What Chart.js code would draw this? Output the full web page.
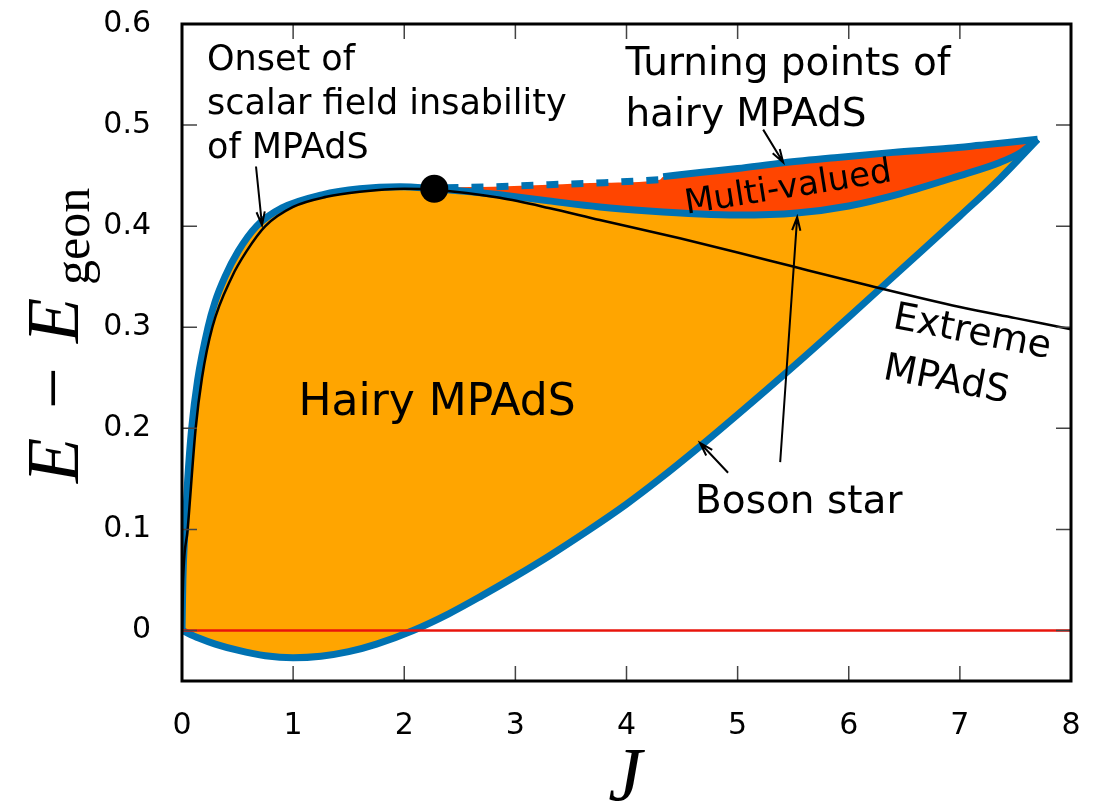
<!DOCTYPE html>
<html>
<head>
<meta charset="utf-8">
<script src="https://cdn.jsdelivr.net/npm/chart.js@4.4.1/dist/chart.umd.min.js"></script>
<style>
  html, body { margin: 0; padding: 0; background: #fff; }
  #chart { display: block; }
</style>
</head>
<body>
<canvas id="chart" width="1101" height="810"></canvas>
<script>
// outer blue curve: rises from origin, over the hump, then lower branch of the multi-valued part up to the cusp
const upperJ = [0, 0.008, 0.027, 0.051, 0.087, 0.141, 0.234, 0.297, 0.387, 0.505, 0.672, 0.9, 1.26, 1.6, 1.96, 2.27, 2.6, 2.86, 3.3, 3.76, 4.2, 4.66, 5.0, 5.53, 6.0, 6.46, 7.0, 7.36, 7.55, 7.7];
const upperE = [0, 0.05, 0.1, 0.149, 0.2, 0.248, 0.3, 0.325, 0.35, 0.375, 0.4, 0.418, 0.431, 0.437, 0.439, 0.437, 0.434, 0.431, 0.425, 0.419, 0.415, 0.412, 0.411, 0.413, 0.42, 0.432, 0.45, 0.463, 0.473, 0.486];

// turning points of hairy MPAdS (dashed part, then solid part)
const dashJ = [2.38, 2.8, 3.3, 3.8, 4.3];
const dashE = [0.438, 0.439, 0.441, 0.443, 0.446];
const turnJ = [4.33, 4.66, 5.0, 5.41, 5.9, 6.4, 6.9, 7.18, 7.45, 7.7];
const turnE = [0.449, 0.453, 0.457, 0.4626, 0.468, 0.473, 0.477, 0.48, 0.483, 0.486];

// boson star branch (lower boundary)
const bosonJ = [0, 0.15, 0.3, 0.5, 0.75, 1.0, 1.25, 1.5, 1.75, 2.08, 2.4, 2.7, 3.0, 3.3, 3.65, 4.0, 4.3, 4.66, 5.0, 5.5, 6.0, 6.5, 7.0, 7.36, 7.7];
const bosonE = [0, -0.0075, -0.0135, -0.0195, -0.025, -0.027, -0.0255, -0.021, -0.0135, 0, 0.0165, 0.0345, 0.0535, 0.0735, 0.0985, 0.125, 0.15, 0.182, 0.2135, 0.261, 0.31, 0.36, 0.41, 0.447, 0.486];

// extreme MPAdS
const extremeJ = [0, 0.01, 0.051, 0.123, 0.18, 0.273, 0.45, 0.58, 0.75, 1.0, 1.3, 1.6, 2.0, 2.27, 2.86, 3.3, 3.76, 4.48, 5.0, 5.5, 6.19, 7.0, 7.5, 8.0];
const extremeE = [0, 0.05, 0.1, 0.2, 0.25, 0.3, 0.35, 0.375, 0.4, 0.419, 0.429, 0.434, 0.437, 0.436, 0.428, 0.418, 0.406, 0.388, 0.374, 0.36, 0.341, 0.32, 0.309, 0.298];

// E = E_geon reference line
const zeroJ = [0, 8];
const zeroE = [0, 0];

// onset of scalar field instability
const onsetJ = [2.27];
const onsetE = [0.437];

const xTickValues = [0, 1, 2, 3, 4, 5, 6, 7, 8];
const yTickValues = [0, 0.1, 0.2, 0.3, 0.4, 0.5, 0.6];

const pts = (xs, ys) => xs.map((v, i) => ({ x: v, y: ys[i] }));

// upper edge of the multi-valued region: onset point, dashed part, solid part
const turnEdge = pts(onsetJ, onsetE).concat(pts(dashJ, dashE), pts(turnJ, turnE));

const BLUE = '#0072b2';

const boxPlugin = {
    id: 'box',
    afterDatasetsDraw(chart) {
        const { ctx, chartArea: a, scales: { x, y } } = chart;
        ctx.save();
        ctx.strokeStyle = '#444';
        ctx.lineWidth = 1.5;
        ctx.beginPath();
        x.ticks.forEach(t => {
            const px = x.getPixelForValue(t.value);
            ctx.moveTo(px, a.bottom); ctx.lineTo(px, a.bottom - 15);
            ctx.moveTo(px, a.top); ctx.lineTo(px, a.top + 15);
        });
        y.ticks.forEach(t => {
            const py = y.getPixelForValue(t.value);
            ctx.moveTo(a.left, py); ctx.lineTo(a.left + 15, py);
            ctx.moveTo(a.right, py); ctx.lineTo(a.right - 15, py);
        });
        ctx.stroke();
        ctx.strokeStyle = '#000';
        ctx.lineWidth = 3;
        ctx.strokeRect(a.left, a.top, a.width, a.height);
        ctx.restore();
    }
};

// labels and arrows, placed in data units
const notes = [
    { lines: ['Onset of', 'scalar field insability', 'of MPAdS'], x: 0.225, y: 0.554, size: 35, step: 0.0435 },
    { lines: ['Turning points of', 'hairy MPAdS'], x: 3.99, y: 0.55, size: 39, step: 0.0505 },
    { lines: ['Boson star'], x: 4.617, y: 0.1166, size: 39, step: 0 },
    { lines: ['Hairy MPAdS'], x: 2.295, y: 0.224, size: 44, center: true },
    { lines: ['Multi-valued'], x: 5.455, y: 0.437, size: 34, center: true, angle: -9 },
    { lines: ['Extreme'], x: 7.11, y: 0.294, size: 38, center: true, angle: 11 },
    { lines: ['MPAdS'], x: 6.877, y: 0.247, size: 38, center: true, angle: 11 }
];
const arrows = [
    [0.666, 0.459, 0.72, 0.401],
    [5.23, 0.4955, 5.41, 0.463],
    [4.914, 0.156, 4.662, 0.1855],
    [5.383, 0.1666, 5.536, 0.409]
];

const notesPlugin = {
    id: 'notes',
    afterDraw(chart) {
        const { ctx, scales: { x, y } } = chart;
        ctx.save();
        ctx.fillStyle = '#000';
        notes.forEach(n => {
            ctx.font = n.size + 'px "DejaVu Sans"';
            if (n.center) {
                ctx.save();
                ctx.translate(x.getPixelForValue(n.x), y.getPixelForValue(n.y));
                ctx.rotate((n.angle || 0) * Math.PI / 180);
                ctx.textAlign = 'center';
                ctx.textBaseline = 'middle';
                ctx.fillText(n.lines[0], 0, 0);
                ctx.restore();
            } else {
                ctx.textAlign = 'left';
                ctx.textBaseline = 'alphabetic';
                n.lines.forEach((s, i) => {
                    ctx.fillText(s, x.getPixelForValue(n.x), y.getPixelForValue(n.y - i * n.step));
                });
            }
        });

        ctx.strokeStyle = '#000';
        ctx.lineWidth = 2;
        arrows.forEach(([x0, y0, x1, y1]) => {
            const ax = x.getPixelForValue(x0), ay = y.getPixelForValue(y0);
            const bx = x.getPixelForValue(x1), by = y.getPixelForValue(y1);
            const ang = Math.atan2(by - ay, bx - ax);
            ctx.beginPath();
            ctx.moveTo(ax, ay); ctx.lineTo(bx, by);
            ctx.moveTo(bx - 14 * Math.cos(ang - 0.3), by - 14 * Math.sin(ang - 0.3));
            ctx.lineTo(bx, by);
            ctx.lineTo(bx - 14 * Math.cos(ang + 0.3), by - 14 * Math.sin(ang + 0.3));
            ctx.stroke();
        });

        // axis titles
        ctx.save();
        ctx.translate(78, 483);
        ctx.rotate(-Math.PI / 2);
        ctx.textAlign = 'left';
        ctx.textBaseline = 'alphabetic';
        ctx.font = 'italic 74px "Liberation Serif"';
        ctx.fillText('E', 0, 0);
        ctx.font = '74px "Liberation Serif"';
        ctx.fillText('\u2212', 74, 0);
        ctx.font = 'italic 74px "Liberation Serif"';
        ctx.fillText('E', 140, 0);
        ctx.font = '50px "Liberation Serif"';
        ctx.fillText('geon', 198, 11);
        ctx.restore();

        ctx.font = 'italic 76px "Liberation Serif"';
        ctx.textAlign = 'center';
        ctx.fillText('J', 625, 800);
        ctx.restore();
    }
};

const lineSet = (data, color, width, order, extra) => Object.assign({
    data: data,
    showLine: true,
    borderColor: color,
    borderWidth: width,
    pointRadius: 0,
    cubicInterpolationMode: 'monotone',
    fill: false,
    order: order
}, extra || {});

const tickFont = { family: '"DejaVu Sans"', size: 30 };

new Chart(document.getElementById('chart'), {
    type: 'scatter',
    data: {
        datasets: [
            lineSet(pts(upperJ, upperE), BLUE, 7, 5),                                  // 0
            lineSet(pts(bosonJ, bosonE), BLUE, 7, 5),                                  // 1
            lineSet(pts(turnJ, turnE), BLUE, 7, 5),                                    // 2
            lineSet(pts(dashJ, dashE), BLUE, 7, 5, { borderDash: [12, 13] }),          // 3
            lineSet(pts(extremeJ, extremeE), '#000', 2.5, 3),                          // 4
            lineSet(pts(zeroJ, zeroE), '#e8150c', 2.5, 2),                             // 5
            {                                                                          // 6
                data: pts(onsetJ, onsetE),
                pointRadius: 14,
                pointBackgroundColor: '#000',
                pointBorderWidth: 0,
                order: 1
            },
            // hairy region: between outer curve and boson star branch
            lineSet(pts(upperJ, upperE), 'transparent', 0, 10, { fill: { target: 1 }, backgroundColor: '#ffa500' }),
            // multi-valued region: between turning points and outer curve
            lineSet(turnEdge, 'transparent', 0, 9, { fill: { target: 0 }, backgroundColor: '#ff4500' })
        ]
    },
    options: {
        responsive: false,
        animation: false,
        devicePixelRatio: 1,
        layout: { padding: { top: 24, right: 30, left: 0, bottom: 0 } },
        plugins: { legend: { display: false }, tooltip: { enabled: false } },
        scales: {
            x: {
                type: 'linear', min: 0, max: 8,
                afterBuildTicks: s => { s.ticks = xTickValues.map(v => ({ value: v })); },
                afterFit: s => { s.height = 129; s.paddingLeft = 0; s.paddingRight = 0; },
                grid: { display: false },
                border: { display: false },
                ticks: { color: '#000', font: tickFont, padding: 19, callback: v => String(v) }
            },
            y: {
                type: 'linear', min: -0.05, max: 0.6,
                afterBuildTicks: s => { s.ticks = yTickValues.map(v => ({ value: v })); },
                afterFit: s => { s.width = 182; s.paddingTop = 0; s.paddingBottom = 0; },
                grid: { display: false },
                border: { display: false },
                ticks: { color: '#000', font: tickFont, padding: 23, callback: v => v === 0 ? '0' : v.toFixed(1) }
            }
        }
    },
    plugins: [boxPlugin, notesPlugin]
});
</script>
</body>
</html>
